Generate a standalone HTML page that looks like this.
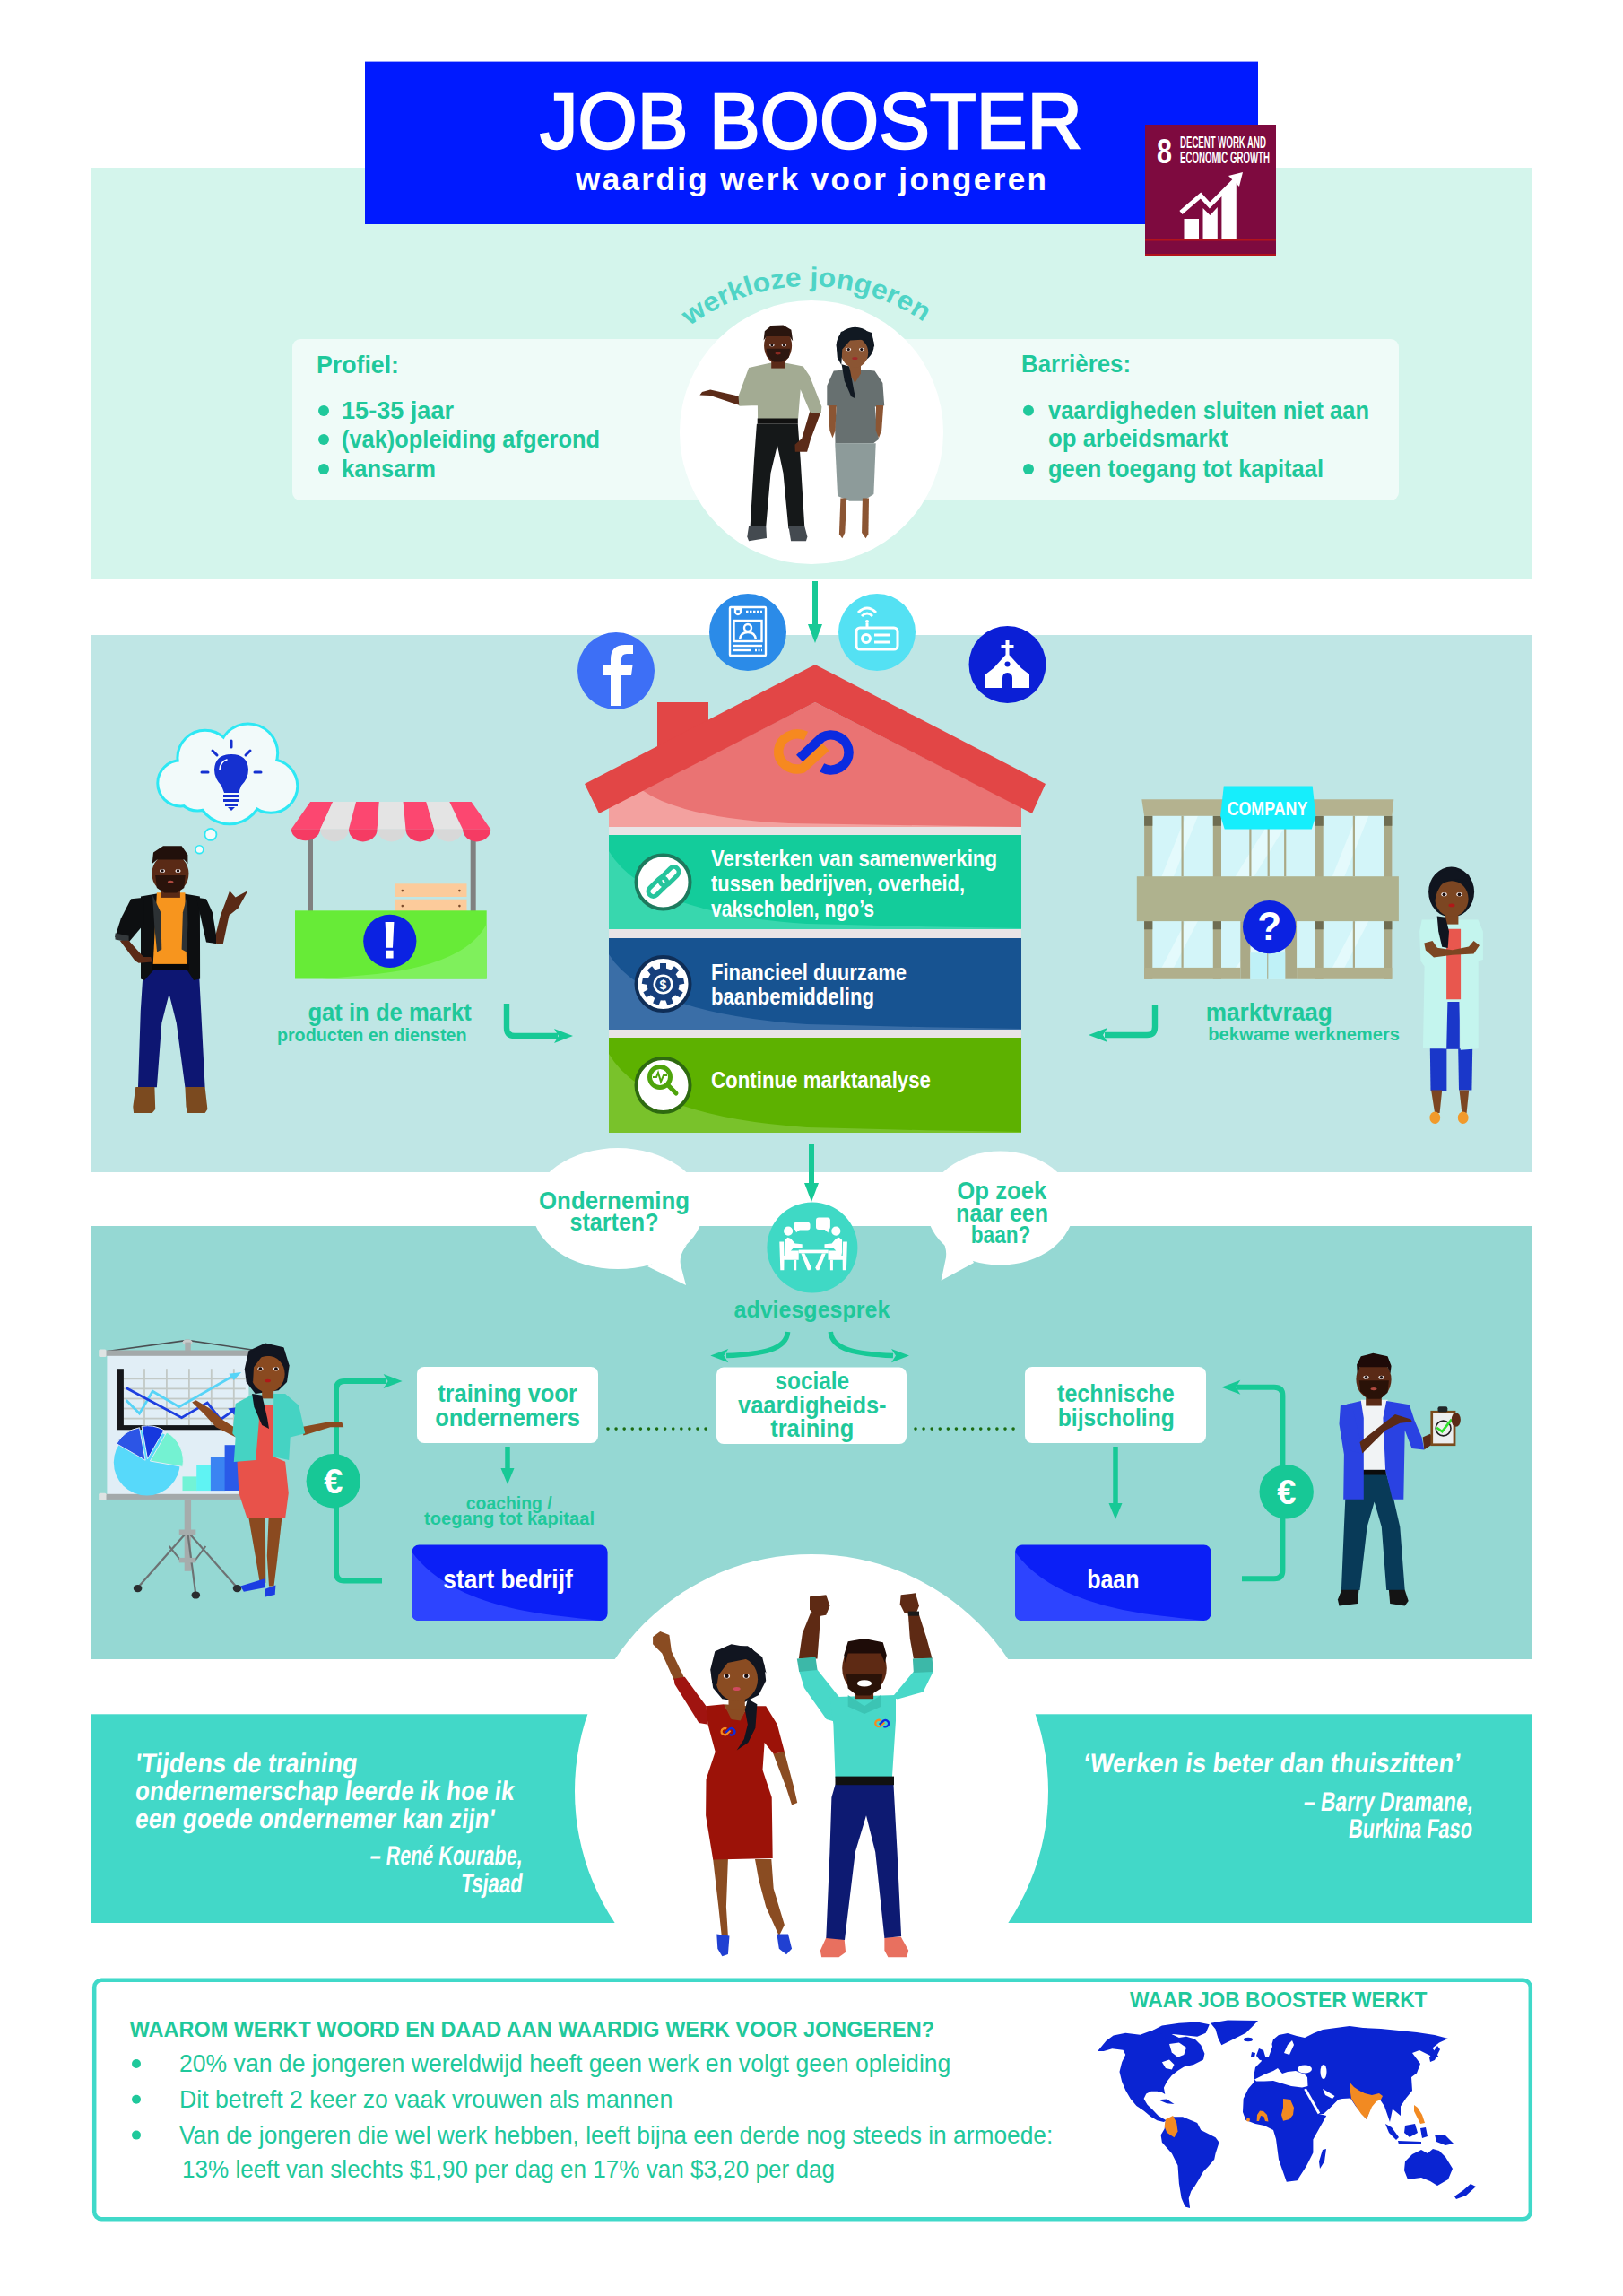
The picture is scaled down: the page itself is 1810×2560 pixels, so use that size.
<!DOCTYPE html>
<html><head><meta charset="utf-8"><title>Job Booster</title>
<style>html,body{margin:0;padding:0;background:#fff;} svg{display:block;}</style>
</head><body>
<svg width="1810" height="2560" viewBox="0 0 1810 2560">
<rect x="0" y="0" width="1810" height="2560" fill="#ffffff" rx="0"/>
<rect x="101" y="187" width="1608" height="459" fill="#d4f5ec" rx="0"/>
<rect x="101" y="708" width="1608" height="599" fill="#bfe6e5" rx="0"/>
<rect x="101" y="1367" width="1608" height="483" fill="#95d8d3" rx="0"/>
<rect x="101" y="1911.3" width="1608" height="232.7" fill="#42d8c8" rx="0"/>
<rect x="407" y="68.6" width="996" height="181.4" fill="#001aff" rx="0"/>
<text x="602" y="165" font-family="Liberation Sans" font-size="87.5" font-weight="normal" font-style="normal" fill="#ffffff" text-anchor="start" textLength="605" lengthAdjust="spacingAndGlyphs" stroke="#ffffff" stroke-width="2.4">JOB BOOSTER</text>
<text x="642" y="212" font-family="Liberation Sans" font-size="35" font-weight="bold" font-style="normal" fill="#ffffff" text-anchor="start" textLength="525" lengthAdjust="spacing">waardig werk voor jongeren</text>
<rect x="1277" y="139" width="146" height="146" fill="#7e0a3f" rx="0"/>
<rect x="1277" y="266" width="146" height="2.5" fill="#b3141c" rx="0"/>
<rect x="1277" y="283" width="146" height="2" fill="#b3141c" rx="0"/>
<text x="1290" y="181.5" font-family="Liberation Sans" font-size="38" font-weight="bold" font-style="normal" fill="#ffffff" text-anchor="start" textLength="17" lengthAdjust="spacingAndGlyphs">8</text>
<text x="1316" y="164.6" font-family="Liberation Sans" font-size="17.5" font-weight="bold" font-style="normal" fill="#ffffff" text-anchor="start" textLength="96" lengthAdjust="spacingAndGlyphs">DECENT WORK AND</text>
<text x="1316" y="181.5" font-family="Liberation Sans" font-size="17.5" font-weight="bold" font-style="normal" fill="#ffffff" text-anchor="start" textLength="100" lengthAdjust="spacingAndGlyphs">ECONOMIC GROWTH</text>
<rect x="1320.5" y="244" width="16.5" height="22.5" fill="#ffffff" rx="0"/>
<polygon points="1341.5,232 1349.5,240 1357.8,231 1357.8,266.5 1341.5,266.5" fill="#ffffff"/>
<polygon points="1362.4,216 1378.8,200 1378.8,266.5 1362.4,266.5" fill="#ffffff"/>
<polyline points="1317,237 1339,218 1349,229 1379,199" fill="none" stroke="#ffffff" stroke-width="5" stroke-linejoin="miter"/>
<polygon points="1386,192 1370,196 1382,208" fill="#ffffff"/>
<rect x="326" y="378" width="1234" height="180" fill="#effbf8" rx="9"/>
<circle cx="905" cy="482" r="147" fill="#ffffff"/>
<path id="arc1" d="M 768.9,363.7 A 222,222 0 0 1 1033,361.4" fill="none"/>
<text font-family="Liberation Sans" font-size="30" font-weight="bold" fill="#4fd4c6"><textPath href="#arc1" startOffset="0" textLength="279" lengthAdjust="spacingAndGlyphs">werkloze jongeren</textPath></text>
<text x="353" y="415.5" font-family="Liberation Sans" font-size="28" font-weight="bold" font-style="normal" fill="#1fc89b" text-anchor="start" textLength="92" lengthAdjust="spacingAndGlyphs">Profiel:</text>
<circle cx="361" cy="458" r="6" fill="#1fc89b"/>
<text x="381" y="467" font-family="Liberation Sans" font-size="27.5" font-weight="bold" font-style="normal" fill="#1fc89b" text-anchor="start" textLength="125" lengthAdjust="spacingAndGlyphs">15-35 jaar</text>
<circle cx="361" cy="490" r="6" fill="#1fc89b"/>
<text x="381" y="499" font-family="Liberation Sans" font-size="27.5" font-weight="bold" font-style="normal" fill="#1fc89b" text-anchor="start" textLength="288" lengthAdjust="spacingAndGlyphs">(vak)opleiding afgerond</text>
<circle cx="361" cy="523" r="6" fill="#1fc89b"/>
<text x="381" y="532" font-family="Liberation Sans" font-size="27.5" font-weight="bold" font-style="normal" fill="#1fc89b" text-anchor="start" textLength="105" lengthAdjust="spacingAndGlyphs">kansarm</text>
<text x="1139" y="415.2" font-family="Liberation Sans" font-size="28" font-weight="bold" font-style="normal" fill="#1fc89b" text-anchor="start" textLength="122" lengthAdjust="spacingAndGlyphs">Barrières:</text>
<circle cx="1147" cy="457.7" r="6" fill="#1fc89b"/>
<text x="1169" y="466.7" font-family="Liberation Sans" font-size="27.5" font-weight="bold" font-style="normal" fill="#1fc89b" text-anchor="start" textLength="358" lengthAdjust="spacingAndGlyphs">vaardigheden sluiten niet aan</text>
<text x="1169" y="498" font-family="Liberation Sans" font-size="27.5" font-weight="bold" font-style="normal" fill="#1fc89b" text-anchor="start" textLength="200.5" lengthAdjust="spacingAndGlyphs">op arbeidsmarkt</text>
<circle cx="1147" cy="523" r="6" fill="#1fc89b"/>
<text x="1169" y="532" font-family="Liberation Sans" font-size="27.5" font-weight="bold" font-style="normal" fill="#1fc89b" text-anchor="start" textLength="307" lengthAdjust="spacingAndGlyphs">geen toegang tot kapitaal</text>
<polygon points="843.9,472.7 889.8,472.7 892.7,512.7 897.2,586.6 879.4,589.6 873.5,527.4 866.9,496.4 859.5,527.4 854.3,586.6 836.5,589.6 841.0,512.7" fill="#151819"/>
<polygon points="835.1,586.6 854.3,586.6 855.0,599.9 835.1,603.2 833.3,598.4" fill="#444a50"/>
<polygon points="879.4,586.6 897.2,586.6 900.4,598.4 898.9,603.2 882.1,603.2" fill="#444a50"/>
<polygon points="824.0,441.7 825.0,452.0 792.2,440.9 780.4,440.5 783.0,437.0 792.2,434.6" fill="#5b2b18"/>
<polygon points="903.8,456.5 915.7,458.7 903.8,490.5 900.1,503.8 886.8,503.8 886.5,495.7 894.2,489.0" fill="#5b2b18"/>
<polygon points="835.1,409.9 858.7,404.7 876.5,404.7 895.7,408.4 903.1,419.5 916.4,453.5 915.7,460.2 903.8,460.2 892.7,434.3 890.1,467.1 845.1,467.1 844.7,434.3 845.4,452.0 824.4,452.8 823.5,441.7" fill="#a3ab93"/>
<rect x="844.7" y="466.5" width="45.1" height="6.2" rx="0.0" fill="#111111"/>
<rect x="860.2" y="398.8" width="15.1" height="11.8" rx="0.0" fill="#5b2b18"/>
<ellipse cx="867.6" cy="385.5" rx="15.5" ry="20.0" fill="#5b2b18"/>
<polygon points="851.6,379.6 852.8,369.2 860.2,363.0 873.5,362.4 882.4,367.7 884.2,380.3 880.2,375.1 855.0,375.1" fill="#2a150e"/>
<polygon points="854.6,388.7 881.2,388.7 879.7,398.8 871.7,403.5 863.2,403.5 855.8,397.6" fill="#2e1710"/>
<ellipse cx="860.9" cy="384.8" rx="2.8" ry="1.8" fill="#f4ecec"/>
<circle cx="860.9" cy="384.8" r="1.5" fill="#1a0c0c"/>
<ellipse cx="874.3" cy="384.8" rx="2.8" ry="1.8" fill="#f4ecec"/>
<circle cx="874.3" cy="384.8" r="1.5" fill="#1a0c0c"/>
<ellipse cx="867.6" cy="394.1" rx="3.1" ry="1.4" fill="#8a2a22"/>
<ellipse cx="953.7" cy="384.8" rx="21.0" ry="20.0" fill="#111922"/>
<polygon points="922.3,429.9 929.7,413.6 947.4,412.1 960.8,412.1 975.5,413.6 984.4,426.9 986.2,452.3 975.8,453.5 977.8,477.2 980.0,489.7 974.1,494.2 931.5,494.6 931.2,475.7 932.7,453.5 922.3,452.3" fill="#677070"/>
<polygon points="923.8,452.0 932.7,452.0 931.5,480.1 928.5,488.3 925.3,480.1" fill="#8b5533"/>
<polygon points="977.0,452.0 985.2,452.0 983.2,480.1 980.0,488.3 976.7,480.1" fill="#8b5533"/>
<polygon points="931.2,494.2 976.7,494.2 974.4,551.1 962.2,558.8 947.4,558.8 934.1,552.9" fill="#8d9b9a"/>
<polygon points="937.4,555.5 944.2,555.5 942.3,594.0 939.3,600.2 935.9,595.5" fill="#8b5533"/>
<polygon points="961.9,555.5 969.0,555.5 968.4,595.5 965.5,600.2 961.1,594.0" fill="#8b5533"/>
<polygon points="947.4,406.2 960.0,406.2 960.0,416.5 953.4,426.9 947.4,416.5" fill="#8b5533"/>
<ellipse cx="953.1" cy="393.2" rx="15.1" ry="16.6" fill="#8b5533"/>
<polygon points="932.7,384.8 937.8,370.0 953.4,364.8 972.3,371.0 975.2,386.2 968.9,387.7 965.5,378.4 948.2,379.6 939.3,389.6 938.3,406.9 933.8,398.8" fill="#111922"/>
<polygon points="938.6,406.2 947.2,408.4 954.1,444.6 949.2,442.0 941.8,424.7" fill="#111922"/>
<ellipse cx="946.3" cy="389.6" rx="2.8" ry="1.9" fill="#f4ecec"/>
<circle cx="946.3" cy="389.6" r="1.6" fill="#1a0c0c"/>
<ellipse cx="960.8" cy="389.6" rx="2.8" ry="1.9" fill="#f4ecec"/>
<circle cx="960.8" cy="389.6" r="1.6" fill="#1a0c0c"/>
<ellipse cx="953.4" cy="399.5" rx="3.1" ry="1.5" fill="#a02a2a"/>
<line x1="909" y1="648" x2="909" y2="698" stroke="#17c996" stroke-width="6"/>
<polygon points="901,696 917,696 909,717" fill="#17c996"/>
<circle cx="687" cy="748" r="43" fill="#3d6ff6"/>
<path d="M 693,787 L 693,753 L 704,753 L 705.5,742 L 693,742 L 693,735 Q 693,729 699,729 L 706,729 L 706,719 L 697,719 Q 681,719 681,735 L 681,742 L 673,742 L 673,753 L 681,753 L 681,787 Z" fill="#ffffff"/>
<circle cx="834" cy="705" r="43" fill="#2b8be8"/>
<g fill="none" stroke="#ffffff" stroke-width="2.4"><rect x="814" y="677" width="40" height="54" rx="1"/><rect x="818.5" y="692" width="31" height="23"/><line x1="832" y1="682" x2="850" y2="682" stroke-dasharray="2.5 1.5"/><line x1="818" y1="720" x2="850" y2="720"/><line x1="818" y1="725" x2="838" y2="725"/><line x1="842" y1="725" x2="850" y2="725" stroke-dasharray="2 1.5"/><circle cx="834" cy="700" r="4"/><path d="M 825,713 Q 826,705 834,705 Q 842,705 843,713"/><path d="M 820,679 L 826,679 L 826,683 Q 823,687 820,683 Z"/></g>
<circle cx="978" cy="705" r="43" fill="#54e1f3"/>
<g fill="none" stroke="#ffffff" stroke-width="3"><rect x="955" y="700" width="46" height="24" rx="4"/><circle cx="966" cy="712" r="4.5"/><line x1="975" y1="708" x2="993" y2="708"/><line x1="975" y1="716" x2="993" y2="716"/><line x1="967" y1="700" x2="967" y2="695"/><path d="M 961,687 Q 967,681 973,687"/><path d="M 957,683 Q 967,673 977,683"/></g>
<circle cx="967" cy="693" r="2" fill="#ffffff"/>
<circle cx="1123.5" cy="741" r="43" fill="#0b1fd6"/>
<g fill="#ffffff"><rect x="1121.5" y="714" width="4" height="16"/><rect x="1116.5" y="719" width="14" height="4"/><polygon points="1123.5,728 1108,745 1108,767 1139,767 1139,745"/><polygon points="1108,745 1099,752 1099,767 1108,767"/><polygon points="1139,745 1148,752 1148,767 1139,767"/></g>
<circle cx="1123.5" cy="740.5" r="3" fill="#0b1fd6"/>
<path d="M 1118,767 L 1118,756 Q 1118,750 1123.5,750 Q 1129,750 1129,756 L 1129,767 Z" fill="#0b1fd6"/>
<rect x="733" y="783" width="57" height="70" fill="#e24646" rx="0"/>
<path d="M 909,783 L 679,900 L 679,922 L 1139,922 L 1139,900 Z" fill="#ea7373"/>
<path d="M 679,900 L 716,881 Q 760,912 880,918 L 1139,922 L 679,922 Z" fill="#f3a19f"/>
<path d="M 909,741 L 652,874 L 668,907 L 909,783 L 1151,907 L 1166,874 Z" fill="#e24646"/>
<g fill="none" stroke-width="10.50" stroke-linejoin="round"><path d="M 898.8,820.6 A 21.0,19.5 0 1 0 895.0,856.7 L 921.0,833.0" stroke="#f6891f"/><path d="M 916.6,855.9 A 20.0,19.5 0 1 0 916.6,822.1 L 891.6,845.5" stroke="#0b2be0"/></g>
<rect x="679" y="922" width="460" height="341" fill="#e8e4e6" rx="0"/>
<rect x="679" y="931" width="460" height="105" fill="#13cc9b" rx="0"/>
<path d="M 679,949 Q 720,1018 900,1030 Q 1050,1034 1139,1035 L 1139,1036 L 679,1036 Z" fill="#38d7ae"/>
<circle cx="739.5" cy="983.5" r="30" fill="#ffffff" stroke="#1d7a5e" stroke-width="4"/>
<rect x="679" y="1046" width="460" height="102" fill="#175391" rx="0"/>
<path d="M 679,1064 Q 720,1130 900,1142 Q 1050,1146 1139,1147 L 1139,1148 L 679,1148 Z" fill="#3a6ea7"/>
<circle cx="739.5" cy="1097.0" r="30" fill="#ffffff" stroke="#0f2e57" stroke-width="4"/>
<rect x="679" y="1157" width="460" height="106" fill="#5db100" rx="0"/>
<path d="M 679,1175 Q 720,1245 900,1257 Q 1050,1261 1139,1262 L 1139,1263 L 679,1263 Z" fill="#79c22b"/>
<circle cx="739.5" cy="1210.0" r="30" fill="#ffffff" stroke="#2e6a10" stroke-width="4"/>
<g fill="none" stroke="#26c49c" stroke-width="5"><rect x="721" y="983.5" width="25" height="11" rx="5.5" transform="rotate(-45 733.5 989)"/><rect x="734" y="971.5" width="25" height="11" rx="5.5" transform="rotate(-45 746.5 977)"/></g>
<g fill="#163f7c"><rect x="736" y="1074" width="7" height="9" transform="rotate(0 739.5 1097.5)"/><rect x="736" y="1074" width="7" height="9" transform="rotate(40 739.5 1097.5)"/><rect x="736" y="1074" width="7" height="9" transform="rotate(80 739.5 1097.5)"/><rect x="736" y="1074" width="7" height="9" transform="rotate(120 739.5 1097.5)"/><rect x="736" y="1074" width="7" height="9" transform="rotate(160 739.5 1097.5)"/><rect x="736" y="1074" width="7" height="9" transform="rotate(200 739.5 1097.5)"/><rect x="736" y="1074" width="7" height="9" transform="rotate(240 739.5 1097.5)"/><rect x="736" y="1074" width="7" height="9" transform="rotate(280 739.5 1097.5)"/><rect x="736" y="1074" width="7" height="9" transform="rotate(320 739.5 1097.5)"/></g>
<circle cx="739.5" cy="1097.5" r="18" fill="#163f7c"/>
<circle cx="739.5" cy="1097.5" r="11" fill="#ffffff"/>
<circle cx="739.5" cy="1097.5" r="8.5" fill="#163f7c"/>
<text x="739.5" y="1103" font-family="Liberation Sans" font-size="14" font-weight="bold" font-style="normal" fill="#ffffff" text-anchor="middle">$</text>
<g fill="none" stroke="#4ea40c" stroke-width="5" stroke-linecap="round"><circle cx="736" cy="1201" r="11.5"/><line x1="745" y1="1210" x2="754" y2="1219"/></g>
<polyline points="728,1201 732,1201 734,1196 737,1206 740,1199 744,1199" fill="none" stroke="#4ea40c" stroke-width="2"/>
<text x="793" y="966.3" font-family="Liberation Sans" font-size="25" font-weight="bold" font-style="normal" fill="#ffffff" text-anchor="start" textLength="319" lengthAdjust="spacingAndGlyphs">Versterken van samenwerking</text>
<text x="793" y="994" font-family="Liberation Sans" font-size="25" font-weight="bold" font-style="normal" fill="#ffffff" text-anchor="start" textLength="283" lengthAdjust="spacingAndGlyphs">tussen bedrijven, overheid,</text>
<text x="793" y="1021.7" font-family="Liberation Sans" font-size="25" font-weight="bold" font-style="normal" fill="#ffffff" text-anchor="start" textLength="182" lengthAdjust="spacingAndGlyphs">vakscholen, ngo’s</text>
<text x="793" y="1092.6" font-family="Liberation Sans" font-size="25" font-weight="bold" font-style="normal" fill="#ffffff" text-anchor="start" textLength="218" lengthAdjust="spacingAndGlyphs">Financieel duurzame</text>
<text x="793" y="1119.7" font-family="Liberation Sans" font-size="25" font-weight="bold" font-style="normal" fill="#ffffff" text-anchor="start" textLength="182" lengthAdjust="spacingAndGlyphs">baanbemiddeling</text>
<text x="793" y="1213.3" font-family="Liberation Sans" font-size="25" font-weight="bold" font-style="normal" fill="#ffffff" text-anchor="start" textLength="245" lengthAdjust="spacingAndGlyphs">Continue marktanalyse</text>
<line x1="905" y1="1276" x2="905" y2="1321" stroke="#17c996" stroke-width="6"/>
<polygon points="897,1319 913,1319 905,1340" fill="#17c996"/>
<circle cx="201.4" cy="873.3" r="24.1" fill="#2de8f4" stroke="#2de8f4" stroke-width="6"/>
<circle cx="228.7" cy="845" r="29.3" fill="#2de8f4" stroke="#2de8f4" stroke-width="6"/>
<circle cx="276.8" cy="839.8" r="31.4" fill="#2de8f4" stroke="#2de8f4" stroke-width="6"/>
<circle cx="302" cy="876.5" r="28.3" fill="#2de8f4" stroke="#2de8f4" stroke-width="6"/>
<circle cx="255.9" cy="881.7" r="35.6" fill="#2de8f4" stroke="#2de8f4" stroke-width="6"/>
<circle cx="220.3" cy="879.6" r="23" fill="#2de8f4" stroke="#2de8f4" stroke-width="6"/>
<circle cx="201.4" cy="873.3" r="24.1" fill="#f2fafa"/>
<circle cx="228.7" cy="845" r="29.3" fill="#f2fafa"/>
<circle cx="276.8" cy="839.8" r="31.4" fill="#f2fafa"/>
<circle cx="302" cy="876.5" r="28.3" fill="#f2fafa"/>
<circle cx="255.9" cy="881.7" r="35.6" fill="#f2fafa"/>
<circle cx="220.3" cy="879.6" r="23" fill="#f2fafa"/>
<circle cx="234.9" cy="930.4" r="6.5" fill="#f4fbfb" stroke="#2de8f4" stroke-width="1.8"/>
<circle cx="222.4" cy="947.2" r="4.4" fill="#f4fbfb" stroke="#2de8f4" stroke-width="1.6"/>
<g fill="#1530d0"><path d="M 258,841 Q 240,841 239,858 Q 239,868 247,876 L 250,884 L 266,884 L 269,876 Q 277,868 277,858 Q 276,841 258,841 Z"/><rect x="249" y="886" width="18" height="3"/><rect x="249" y="891" width="18" height="3"/><rect x="251" y="896" width="14" height="3"/><polygon points="254,900 262,900 258,904"/></g>
<g stroke="#1530d0" stroke-width="3" stroke-linecap="round"><line x1="258" y1="826" x2="258" y2="833"/><line x1="237" y1="837" x2="242" y2="842"/><line x1="279" y1="837" x2="274" y2="842"/><line x1="225" y1="861" x2="232" y2="861"/><line x1="284" y1="861" x2="291" y2="861"/></g>
<path d="M 245,858 Q 246,849 253,847" fill="none" stroke="#fff" stroke-width="1.6" stroke-linecap="round"/>
<polygon points="159.8,1080.7 221.8,1080.7 224.2,1127.0 228.6,1212.3 206.4,1212.3 196.8,1140.7 188.6,1108.1 180.3,1140.7 174.9,1212.3 154.0,1212.3 156.8,1127.0" fill="#0d1672"/>
<polygon points="151.3,1212.1 172.4,1212.1 173.2,1236.7 169.7,1241.1 149.1,1241.1 148.3,1234.0" fill="#7b4a1f"/>
<polygon points="206.4,1212.1 228.6,1212.1 231.4,1236.7 228.6,1241.1 209.2,1241.1 207.5,1234.0" fill="#7b4a1f"/>
<polygon points="238.2,1051.6 248.7,1052.7 255.5,1020.7 265.7,1012.5 276.6,992.9 262.6,1000.6 256.1,993.3 252.4,1003.6 245.9,1020.7" fill="#5a2a16"/>
<polygon points="157.0,999.5 177.6,996.0 202.3,996.0 222.9,999.5 223.1,1091.4 216.0,1093.0 208.1,1080.7 172.1,1080.7 161.1,1093.0 157.0,1091.4" fill="#0d0f11"/>
<polygon points="146.1,1002.2 161.1,1000.8 160.0,1031.0 143.6,1050.5 128.2,1045.0 134.8,1024.2" fill="#0d0f11"/>
<polygon points="218.8,1000.8 230.0,1002.2 236.9,1017.3 241.0,1042.3 241.0,1051.9 230.0,1050.5 224.2,1024.2" fill="#0d0f11"/>
<polygon points="128.5,1040.6 143.6,1043.4 143.6,1050.5 128.5,1047.5" fill="#33383b"/>
<polygon points="133.7,1048.8 143.6,1048.8 160.0,1066.9 168.3,1066.9 169.7,1072.4 154.6,1073.8 150.4,1071.1" fill="#5a2a16"/>
<polygon points="174.9,995.3 206.4,995.3 208.1,1075.2 170.7,1075.2" fill="#f7951e"/>
<polygon points="170.1,998.1 179.3,1017.3 180.3,1058.4 175.1,1061.5 172.1,1031.0" fill="#2c3134"/>
<polygon points="208.9,998.1 203.9,1017.3 202.6,1058.4 208.1,1061.5 209.4,1031.0" fill="#2c3134"/>
<rect x="169.4" y="1074.9" width="41.4" height="6.9" rx="0.0" fill="#080808"/>
<rect x="179.0" y="989.9" width="21.9" height="11.0" rx="0.0" fill="#5a2a16"/>
<ellipse cx="189.9" cy="974.1" rx="20.6" ry="21.9" fill="#5a2a16"/>
<polygon points="169.7,963.1 171.0,950.4 182.0,943.2 202.6,943.2 209.4,953.1 209.4,963.1 205.3,958.6 175.1,958.6" fill="#21100b"/>
<polygon points="173.2,976.1 206.7,976.1 205.3,990.1 197.1,995.6 183.4,995.6 174.9,990.1" fill="#2a130b"/>
<ellipse cx="181.0" cy="970.9" rx="3.0" ry="2.0" fill="#f4ecec"/>
<circle cx="181.0" cy="970.9" r="1.7" fill="#1a0c0c"/>
<ellipse cx="198.5" cy="970.9" rx="3.0" ry="2.0" fill="#f4ecec"/>
<circle cx="198.5" cy="970.9" r="1.7" fill="#1a0c0c"/>
<ellipse cx="190.2" cy="983.3" rx="3.3" ry="1.6" fill="#b04a40"/>
<g fill="#808080"><rect x="343" y="930" width="6" height="87"/><rect x="524.7" y="930" width="6" height="87"/></g>
<rect x="440.7" y="985.3" width="79.8" height="14.7" fill="#fccb9b" rx="0"/>
<rect x="440.7" y="1002.7" width="79.8" height="14.5" fill="#fccb9b" rx="0"/>
<circle cx="448.8" cy="993.1" r="1.3" fill="#7a4a2a"/>
<circle cx="512.4" cy="993.1" r="1.3" fill="#7a4a2a"/>
<circle cx="448.8" cy="1010.1" r="1.3" fill="#7a4a2a"/>
<circle cx="512.4" cy="1010.1" r="1.3" fill="#7a4a2a"/>
<rect x="329" y="1015.3" width="213.7" height="76.2" fill="#67eb37" rx="0"/>
<path d="M 542.7,1030 Q 520,1075 420,1086 L 359,1091.5 L 542.7,1091.5 Z" fill="#7ff05c"/>
<polygon points="346.1,894.0 371.2,894.0 357.1,924.7 324.6,924.7" fill="#fc4770"/>
<path d="M 324.6,924.4 A 16.3,14.0 0 0 0 357.1,924.4 Z" fill="#f53b63"/>
<polygon points="371.2,894.0 397.1,894.0 388.9,924.7 357.1,924.7" fill="#e4e4e4"/>
<path d="M 357.1,924.4 A 15.9,14.0 0 0 0 388.9,924.4 Z" fill="#d8d8d8"/>
<polygon points="397.1,894.0 422.9,894.0 420.7,924.7 388.9,924.7" fill="#fc4770"/>
<path d="M 388.9,924.4 A 15.9,14.0 0 0 0 420.7,924.4 Z" fill="#f53b63"/>
<polygon points="422.9,894.0 449.6,894.0 452.5,924.7 420.7,924.7" fill="#e4e4e4"/>
<path d="M 420.7,924.4 A 15.9,14.0 0 0 0 452.5,924.4 Z" fill="#d8d8d8"/>
<polygon points="449.6,894.0 475.4,894.0 484.3,924.7 452.5,924.7" fill="#fc4770"/>
<path d="M 452.5,924.4 A 15.9,14.0 0 0 0 484.3,924.4 Z" fill="#f53b63"/>
<polygon points="475.4,894.0 501.3,894.0 516.1,924.7 484.3,924.7" fill="#e4e4e4"/>
<path d="M 484.3,924.4 A 15.9,14.0 0 0 0 516.1,924.4 Z" fill="#d8d8d8"/>
<polygon points="501.3,894.0 525.7,894.0 547.2,924.7 516.1,924.7" fill="#fc4770"/>
<path d="M 516.1,924.4 A 15.5,14.0 0 0 0 547.2,924.4 Z" fill="#f53b63"/>
<circle cx="434.8" cy="1049.3" r="29.6" fill="#0b22e2"/>
<polygon points="429.6,1027.9 439.4,1027.9 438,1056.7 431,1056.7" fill="#fff"/>
<rect x="430.6" y="1059.7" width="8" height="8.8" fill="#ffffff" rx="0"/>
<text x="525.8" y="1138.3" font-family="Liberation Sans" font-size="27" font-weight="bold" font-style="normal" fill="#1fc89b" text-anchor="end" textLength="182.4" lengthAdjust="spacingAndGlyphs">gat in de markt</text>
<text x="520.5" y="1161" font-family="Liberation Sans" font-size="21" font-weight="bold" font-style="normal" fill="#1fc89b" text-anchor="end" textLength="211.6" lengthAdjust="spacingAndGlyphs">producten en diensten</text>
<path d="M 565,1119 L 565,1146 Q 565,1155 574,1155 L 622,1155" fill="none" stroke="#17c996" stroke-width="6.4"/>
<polygon points="639,1155 618,1147 623,1155 618,1163" fill="#17c996"/>
<rect x="1276.1" y="909.7" width="276.3" height="182.1" rx="0.0" fill="#d3f5f9"/>
<polygon points="1322.4,909.7 1335.9,909.7 1308.9,977.2 1295.5,977.2" fill="#e4fafc"/>
<polygon points="1322.4,1027.1 1335.9,1027.1 1308.9,1078.9 1295.5,1078.9" fill="#e4fafc"/>
<polygon points="1419.5,909.7 1440.4,909.7 1398.6,977.2 1377.7,977.2" fill="#e4fafc"/>
<polygon points="1419.5,1027.1 1440.4,1027.1 1398.6,1078.9 1377.7,1078.9" fill="#e4fafc"/>
<polygon points="1512.8,909.7 1526.3,909.7 1499.3,977.2 1485.8,977.2" fill="#e4fafc"/>
<polygon points="1512.8,1027.1 1526.3,1027.1 1499.3,1078.9 1485.8,1078.9" fill="#e4fafc"/>
<rect x="1317.5" y="909.7" width="2.2" height="67.5" rx="0.0" fill="#aaa987"/>
<rect x="1393.3" y="909.7" width="2.2" height="67.5" rx="0.0" fill="#aaa987"/>
<rect x="1413.6" y="909.7" width="2.2" height="67.5" rx="0.0" fill="#aaa987"/>
<rect x="1432.1" y="909.7" width="2.2" height="67.5" rx="0.0" fill="#aaa987"/>
<rect x="1508.8" y="909.7" width="2.2" height="67.5" rx="0.0" fill="#aaa987"/>
<rect x="1317.5" y="1027.1" width="2.2" height="51.8" rx="0.0" fill="#aaa987"/>
<rect x="1508.8" y="1027.1" width="2.2" height="51.8" rx="0.0" fill="#aaa987"/>
<rect x="1413.6" y="1027.1" width="2.2" height="51.8" rx="0.0" fill="#aaa987"/>
<rect x="1276.1" y="909.7" width="9.2" height="182.1" rx="0.0" fill="#aaa987"/>
<rect x="1276.1" y="909.7" width="9.2" height="11.1" rx="0.0" fill="#6f6d52"/>
<rect x="1276.1" y="1027.1" width="9.2" height="9.2" rx="0.0" fill="#6f6d52"/>
<rect x="1352.8" y="909.7" width="9.2" height="182.1" rx="0.0" fill="#aaa987"/>
<rect x="1352.8" y="909.7" width="9.2" height="11.1" rx="0.0" fill="#6f6d52"/>
<rect x="1352.8" y="1027.1" width="9.2" height="9.2" rx="0.0" fill="#6f6d52"/>
<rect x="1466.5" y="909.7" width="9.2" height="182.1" rx="0.0" fill="#aaa987"/>
<rect x="1466.5" y="909.7" width="9.2" height="11.1" rx="0.0" fill="#6f6d52"/>
<rect x="1466.5" y="1027.1" width="9.2" height="9.2" rx="0.0" fill="#6f6d52"/>
<rect x="1543.2" y="909.7" width="9.2" height="182.1" rx="0.0" fill="#aaa987"/>
<rect x="1543.2" y="909.7" width="9.2" height="11.1" rx="0.0" fill="#6f6d52"/>
<rect x="1543.2" y="1027.1" width="9.2" height="9.2" rx="0.0" fill="#6f6d52"/>
<polygon points="1383.3,1027.1 1394.4,1027.1 1394.4,1091.8 1383.3,1091.8" fill="#aaa987"/>
<polygon points="1433.2,1027.1 1446.1,1027.1 1446.1,1091.8 1433.2,1091.8" fill="#aaa987"/>
<rect x="1394.4" y="1062.2" width="38.8" height="29.6" rx="0.0" fill="#bff1f7"/>
<rect x="1413.2" y="1062.2" width="1.1" height="29.6" rx="0.0" fill="#aaa987"/>
<rect x="1276.1" y="1078.9" width="107.2" height="12.9" rx="0.0" fill="#b0af8c"/>
<rect x="1446.1" y="1078.9" width="106.3" height="12.9" rx="0.0" fill="#b0af8c"/>
<polygon points="1273.3,891.3 1554.3,891.3 1552.4,909.7 1276.1,909.7" fill="#b4b28f"/>
<rect x="1267.8" y="977.2" width="292.1" height="49.9" rx="0.0" fill="#afb28e"/>
<polygon points="1364.8,876.5 1463.7,876.5 1467.4,909.7 1462.8,924.5 1365.7,924.5 1361.1,909.7" fill="#16eefc"/>
<text x="1413.5" y="908.8" font-family="Liberation Sans" font-size="22" font-weight="bold" font-style="normal" fill="#ffffff" text-anchor="middle" textLength="89.6" lengthAdjust="spacingAndGlyphs">COMPANY</text>
<circle cx="1415.6" cy="1033.6" r="29.6" fill="#0b22e2"/>
<text x="1415.6" y="1048" font-family="Liberation Sans" font-size="44" font-weight="bold" font-style="normal" fill="#ffffff" text-anchor="middle">?</text>
<text x="1344.8" y="1138.2" font-family="Liberation Sans" font-size="27" font-weight="bold" font-style="normal" fill="#1fc89b" text-anchor="start" textLength="141" lengthAdjust="spacingAndGlyphs">marktvraag</text>
<text x="1347.3" y="1160.4" font-family="Liberation Sans" font-size="21" font-weight="bold" font-style="normal" fill="#1fc89b" text-anchor="start" textLength="213.7" lengthAdjust="spacingAndGlyphs">bekwame werknemers</text>
<path d="M 1288,1120 L 1288,1145 Q 1288,1154 1279,1154 L 1232,1154" fill="none" stroke="#17c996" stroke-width="6.4"/>
<polygon points="1214,1154 1235,1146 1230,1154 1235,1162" fill="#17c996"/>
<ellipse cx="1618.6" cy="994.6" rx="25.5" ry="28.1" fill="#10151f"/>
<polygon points="1594.8,1169.2 1613.4,1169.2 1613.4,1216.2 1595.5,1216.2" fill="#1a37c9"/>
<polygon points="1626.2,1169.2 1642.2,1169.2 1641.4,1215.6 1627.0,1215.6" fill="#1a37c9"/>
<polygon points="1613.1,1114.2 1627.8,1114.2 1627.8,1169.8 1613.1,1169.8" fill="#1a37c9"/>
<polygon points="1596.1,1215.6 1608.2,1215.6 1605.6,1241.0 1600.1,1241.0" fill="#7c4622"/>
<polygon points="1627.5,1215.6 1638.2,1215.6 1635.6,1241.0 1630.4,1241.0" fill="#7c4622"/>
<ellipse cx="1600.3" cy="1246.3" rx="5.9" ry="6.8" fill="#f19a2b"/>
<ellipse cx="1631.7" cy="1246.3" rx="5.9" ry="6.8" fill="#f19a2b"/>
<polygon points="1585.7,1025.4 1648.4,1025.4 1653.9,1038.4 1653.9,1070.1 1648.7,1071.4 1648.7,1169.2 1628.8,1170.7 1627.5,1116.9 1614.4,1116.9 1613.1,1169.2 1587.0,1168.1 1588.6,1077.6 1584.4,1071.4 1583.1,1038.4" fill="#c4f5ee"/>
<polygon points="1613.1,1035.8 1629.1,1035.8 1629.1,1114.2 1613.1,1114.2" fill="#e8574e"/>
<rect x="1611.8" y="1017.5" width="14.6" height="13.1" rx="0.0" fill="#7c4622"/>
<polygon points="1588.3,1051.5 1597.5,1048.9 1602.9,1056.7 1619.7,1059.3 1638.0,1055.4 1643.5,1048.9 1650.0,1054.1 1643.5,1063.5 1619.7,1064.8 1599.0,1067.5 1589.9,1059.6" fill="#7c4622"/>
<ellipse cx="1619.0" cy="1002.1" rx="18.6" ry="19.9" fill="#7c4622"/>
<polygon points="1594.8,992.7 1600.3,975.7 1618.6,967.8 1638.2,975.7 1643.5,992.7 1638.2,986.1 1633.0,979.9 1609.5,982.2 1602.9,994.2 1600.3,1003.4 1596.1,1003.4" fill="#10151f"/>
<polygon points="1602.7,1021.4 1612.1,1022.7 1616.0,1038.4 1614.7,1057.0 1608.2,1055.7 1604.2,1038.4" fill="#10151f"/>
<ellipse cx="1610.5" cy="997.3" rx="3.2" ry="2.2" fill="#f4ecec"/>
<circle cx="1610.5" cy="997.3" r="1.9" fill="#1a0c0c"/>
<ellipse cx="1627.5" cy="997.3" rx="3.2" ry="2.2" fill="#f4ecec"/>
<circle cx="1627.5" cy="997.3" r="1.9" fill="#1a0c0c"/>
<ellipse cx="1619.0" cy="1009.4" rx="3.5" ry="1.8" fill="#b01818"/>
<g fill="#ffffff"><ellipse cx="689" cy="1347.6" rx="95.5" ry="67.5"/><path d="M 766,1388 Q 757,1400 759,1410 L 765,1433 L 722,1412 Z"/><ellipse cx="1115.5" cy="1347" rx="82" ry="63.5"/><path d="M 1052,1384 Q 1056,1394 1055,1402 L 1049.6,1427.7 L 1086,1408 L 1080,1396 Z"/></g>
<text x="601" y="1348" font-family="Liberation Sans" font-size="27.5" font-weight="bold" font-style="normal" fill="#1fc89b" text-anchor="start" textLength="168" lengthAdjust="spacingAndGlyphs">Onderneming</text>
<text x="685" y="1372.3" font-family="Liberation Sans" font-size="27.5" font-weight="bold" font-style="normal" fill="#1fc89b" text-anchor="middle" textLength="99" lengthAdjust="spacingAndGlyphs">starten?</text>
<text x="1117.3" y="1337.2" font-family="Liberation Sans" font-size="27" font-weight="bold" font-style="normal" fill="#1fc89b" text-anchor="middle" textLength="100" lengthAdjust="spacingAndGlyphs">Op zoek</text>
<text x="1117.6" y="1361.8" font-family="Liberation Sans" font-size="27" font-weight="bold" font-style="normal" fill="#1fc89b" text-anchor="middle" textLength="103" lengthAdjust="spacingAndGlyphs">naar een</text>
<text x="1116.1" y="1385.8" font-family="Liberation Sans" font-size="27" font-weight="bold" font-style="normal" fill="#1fc89b" text-anchor="middle" textLength="66.6" lengthAdjust="spacingAndGlyphs">baan?</text>
<circle cx="905.9" cy="1391" r="50.5" fill="#3fd9c5"/>
<ellipse cx="879.1" cy="1372.6" rx="5.1" ry="5.1" fill="#ffffff"/>
<ellipse cx="932.3" cy="1372.6" rx="5.1" ry="5.1" fill="#ffffff"/>
<polygon points="869.3,1384.5 874.1,1384.5 874.5,1400.1 890.7,1400.1 890.7,1404.8 874.5,1404.8 874.4,1416.3 870.3,1416.3" fill="#ffffff"/>
<rect x="885.2" y="1404.8" width="3.0" height="11.5" rx="0.0" fill="#ffffff"/>
<polygon points="944.9,1384.5 940.1,1384.5 939.7,1400.1 923.5,1400.1 923.5,1404.8 939.7,1404.8 939.8,1416.3 943.9,1416.3" fill="#ffffff"/>
<rect x="925.9" y="1404.8" width="3.0" height="11.5" rx="0.0" fill="#ffffff"/>
<polygon points="875.1,1382.4 878.5,1379.7 881.9,1381.1 886.6,1386.5 894.7,1387.2 894.7,1391.3 885.2,1391.3 881.9,1394.6 890.7,1394.6 890.7,1400.1 875.8,1400.1 875.1,1396.0" fill="#ffffff"/>
<polygon points="939.1,1382.4 935.7,1379.7 932.3,1381.1 927.6,1386.5 919.5,1387.2 919.5,1391.3 929.0,1391.3 932.3,1394.6 923.5,1394.6 923.5,1400.1 938.4,1400.1 939.1,1396.0" fill="#ffffff"/>
<rect x="890.7" y="1393.6" width="32.9" height="3.7" rx="0.0" fill="#ffffff"/>
<polygon points="893.4,1397.4 897.4,1397.4 904.9,1413.6 903.5,1416.3 900.8,1416.3" fill="#ffffff"/>
<polygon points="920.8,1397.4 916.8,1397.4 909.3,1413.6 910.7,1416.3 913.4,1416.3" fill="#ffffff"/>
<rect x="885.2" y="1362.8" width="18.3" height="8.8" rx="3" fill="#fff"/>
<rect x="910.0" y="1357.4" width="15.9" height="13.6" rx="3" fill="#fff"/>
<polygon points="886.6,1370.2 892.0,1370.9 888.0,1374.3" fill="#ffffff"/>
<polygon points="919.1,1370.2 924.6,1370.2 923.5,1374.6" fill="#ffffff"/>
<text x="905.4" y="1468.5" font-family="Liberation Sans" font-size="25.5" font-weight="bold" font-style="normal" fill="#1fc89b" text-anchor="middle" textLength="173.8" lengthAdjust="spacingAndGlyphs">adviesgesprek</text>
<path d="M 878.6,1485 C 877,1505 850,1510 810,1511.6" fill="none" stroke="#17c996" stroke-width="5.5"/>
<polygon points="792.3,1511.6 812.3,1503.8999999999999 807.3,1511.6 812.3,1519.3" fill="#17c996"/>
<path d="M 926.3,1485 C 928,1505 955,1510 996,1511.6" fill="none" stroke="#17c996" stroke-width="5.5"/>
<polygon points="1014,1511.6 994,1503.8999999999999 999,1511.6 994,1519.3" fill="#17c996"/>
<rect x="465" y="1524" width="202" height="85" fill="#ffffff" rx="8"/>
<rect x="799" y="1524.5" width="212" height="85.5" fill="#ffffff" rx="8"/>
<rect x="1143" y="1524" width="202" height="85" fill="#ffffff" rx="8"/>
<text x="566" y="1562.8" font-family="Liberation Sans" font-size="27" font-weight="bold" font-style="normal" fill="#1fc89b" text-anchor="middle" textLength="155.7" lengthAdjust="spacingAndGlyphs">training voor</text>
<text x="566" y="1590" font-family="Liberation Sans" font-size="27" font-weight="bold" font-style="normal" fill="#1fc89b" text-anchor="middle" textLength="161.7" lengthAdjust="spacingAndGlyphs">ondernemers</text>
<text x="905.8" y="1549" font-family="Liberation Sans" font-size="27" font-weight="bold" font-style="normal" fill="#1fc89b" text-anchor="middle" textLength="82.8" lengthAdjust="spacingAndGlyphs">sociale</text>
<text x="905.8" y="1575.7" font-family="Liberation Sans" font-size="27" font-weight="bold" font-style="normal" fill="#1fc89b" text-anchor="middle" textLength="165.6" lengthAdjust="spacingAndGlyphs">vaardigheids-</text>
<text x="905.8" y="1601.6" font-family="Liberation Sans" font-size="27" font-weight="bold" font-style="normal" fill="#1fc89b" text-anchor="middle" textLength="93" lengthAdjust="spacingAndGlyphs">training</text>
<text x="1244.4" y="1562.8" font-family="Liberation Sans" font-size="27" font-weight="bold" font-style="normal" fill="#1fc89b" text-anchor="middle" textLength="130.7" lengthAdjust="spacingAndGlyphs">technische</text>
<text x="1244.8" y="1590" font-family="Liberation Sans" font-size="27" font-weight="bold" font-style="normal" fill="#1fc89b" text-anchor="middle" textLength="130" lengthAdjust="spacingAndGlyphs">bijscholing</text>
<circle cx="678.0" cy="1593.1" r="1.8" fill="#1c6b12"/>
<circle cx="1021.0" cy="1593.1" r="1.8" fill="#1c6b12"/>
<circle cx="687.09" cy="1593.1" r="1.8" fill="#1c6b12"/>
<circle cx="1030.09" cy="1593.1" r="1.8" fill="#1c6b12"/>
<circle cx="696.18" cy="1593.1" r="1.8" fill="#1c6b12"/>
<circle cx="1039.18" cy="1593.1" r="1.8" fill="#1c6b12"/>
<circle cx="705.27" cy="1593.1" r="1.8" fill="#1c6b12"/>
<circle cx="1048.27" cy="1593.1" r="1.8" fill="#1c6b12"/>
<circle cx="714.36" cy="1593.1" r="1.8" fill="#1c6b12"/>
<circle cx="1057.36" cy="1593.1" r="1.8" fill="#1c6b12"/>
<circle cx="723.45" cy="1593.1" r="1.8" fill="#1c6b12"/>
<circle cx="1066.45" cy="1593.1" r="1.8" fill="#1c6b12"/>
<circle cx="732.54" cy="1593.1" r="1.8" fill="#1c6b12"/>
<circle cx="1075.54" cy="1593.1" r="1.8" fill="#1c6b12"/>
<circle cx="741.63" cy="1593.1" r="1.8" fill="#1c6b12"/>
<circle cx="1084.63" cy="1593.1" r="1.8" fill="#1c6b12"/>
<circle cx="750.72" cy="1593.1" r="1.8" fill="#1c6b12"/>
<circle cx="1093.72" cy="1593.1" r="1.8" fill="#1c6b12"/>
<circle cx="759.81" cy="1593.1" r="1.8" fill="#1c6b12"/>
<circle cx="1102.81" cy="1593.1" r="1.8" fill="#1c6b12"/>
<circle cx="768.9" cy="1593.1" r="1.8" fill="#1c6b12"/>
<circle cx="1111.9" cy="1593.1" r="1.8" fill="#1c6b12"/>
<circle cx="777.99" cy="1593.1" r="1.8" fill="#1c6b12"/>
<circle cx="1120.99" cy="1593.1" r="1.8" fill="#1c6b12"/>
<circle cx="787.08" cy="1593.1" r="1.8" fill="#1c6b12"/>
<circle cx="1130.08" cy="1593.1" r="1.8" fill="#1c6b12"/>
<line x1="566" y1="1613" x2="566" y2="1639" stroke="#17c996" stroke-width="5.5"/>
<polygon points="558.5,1637 573.5,1637 566,1655" fill="#17c996"/>
<line x1="1244" y1="1613" x2="1244" y2="1678" stroke="#17c996" stroke-width="5.5"/>
<polygon points="1236.5,1676 1251.5,1676 1244,1694" fill="#17c996"/>
<text x="567.7" y="1682.7" font-family="Liberation Sans" font-size="21" font-weight="bold" font-style="normal" fill="#1fc89b" text-anchor="middle" textLength="95.7" lengthAdjust="spacingAndGlyphs">coaching /</text>
<text x="568" y="1700" font-family="Liberation Sans" font-size="21" font-weight="bold" font-style="normal" fill="#1fc89b" text-anchor="middle" textLength="190" lengthAdjust="spacingAndGlyphs">toegang tot kapitaal</text>
<rect x="459.4" y="1722.4" width="218.20000000000005" height="84.6" fill="#0b1ff6" rx="8"/>
<path d="M 459.4,1730.4 Q 499.4,1785 609.4,1800 Q 649.4,1805 669.6,1807 L 467.4,1807 Q 459.4,1807 459.4,1799 Z" fill="#2d44ff"/>
<text x="566.5" y="1771" font-family="Liberation Sans" font-size="29" font-weight="bold" font-style="normal" fill="#ffffff" text-anchor="middle" textLength="144.4" lengthAdjust="spacingAndGlyphs">start bedrijf</text>
<rect x="1132" y="1722.4" width="218.5999999999999" height="84.6" fill="#0b1ff6" rx="8"/>
<path d="M 1132,1730.4 Q 1172,1785 1282,1800 Q 1322,1805 1342.6,1807 L 1140,1807 Q 1132,1807 1132,1799 Z" fill="#2d44ff"/>
<text x="1241.3" y="1771" font-family="Liberation Sans" font-size="29" font-weight="bold" font-style="normal" fill="#ffffff" text-anchor="middle" textLength="58.3" lengthAdjust="spacingAndGlyphs">baan</text>
<path d="M 426,1762.5 L 384,1762.5 Q 375,1762.5 375,1753.5 L 375,1549 Q 375,1540 384,1540 L 430,1540" fill="none" stroke="#17c996" stroke-width="6"/>
<polygon points="448.6,1540 427.6,1532 432.6,1540 427.6,1548" fill="#17c996"/>
<circle cx="371.8" cy="1651.2" r="30.2" fill="#17c896"/>
<text x="371.8" y="1664.5" font-family="Liberation Sans" font-size="38" font-weight="bold" font-style="normal" fill="#ffffff" text-anchor="middle">€</text>
<path d="M 1385,1760.3 L 1421,1760.3 Q 1430.4,1760.3 1430.4,1751 L 1430.4,1556 Q 1430.4,1546.8 1421,1546.8 L 1380,1546.8" fill="none" stroke="#17c996" stroke-width="6"/>
<polygon points="1362.3,1546.8 1383.3,1538.8 1378.3,1546.8 1383.3,1554.8" fill="#17c996"/>
<circle cx="1434.7" cy="1663.3" r="30.2" fill="#17c896"/>
<text x="1434.7" y="1676.6" font-family="Liberation Sans" font-size="38" font-weight="bold" font-style="normal" fill="#ffffff" text-anchor="middle">€</text>
<polyline points="118.5,1506.8 209.1,1494.4 281.1,1505.0" fill="none" stroke="#4a4f52" stroke-width="1.6"/>
<ellipse cx="209.1" cy="1496.6" rx="5.5" ry="3.3" fill="#c8cccc"/>
<rect x="206.3" y="1496.6" width="6.5" height="11.1" rx="0.0" fill="#a8aeae"/>
<rect x="119.4" y="1510.5" width="158.0" height="156.6" rx="0.0" fill="#e1eef6"/>
<rect x="111.1" y="1505.5" width="169.1" height="6.3" rx="0.0" fill="#a3a9aa"/>
<rect x="110.2" y="1504.4" width="8.3" height="8.5" rx="1.5" fill="#dfe3e3"/>
<rect x="111.1" y="1665.8" width="160.8" height="6.1" rx="0.0" fill="#a3a9aa"/>
<rect x="110.2" y="1664.8" width="8.3" height="8.3" rx="1.5" fill="#dfe3e3"/>
<rect x="160.1" y="1526.2" width="1.8" height="62.8" rx="0.0" fill="#c2c9c6"/>
<rect x="185.0" y="1526.2" width="1.8" height="62.8" rx="0.0" fill="#c2c9c6"/>
<rect x="210.0" y="1526.2" width="1.8" height="62.8" rx="0.0" fill="#c2c9c6"/>
<rect x="234.9" y="1526.2" width="1.8" height="62.8" rx="0.0" fill="#c2c9c6"/>
<rect x="259.9" y="1526.2" width="1.8" height="62.8" rx="0.0" fill="#c2c9c6"/>
<rect x="137.9" y="1536.4" width="135.9" height="1.8" rx="0.0" fill="#c2c9c6"/>
<rect x="137.9" y="1547.5" width="135.9" height="1.8" rx="0.0" fill="#c2c9c6"/>
<rect x="137.9" y="1558.6" width="135.9" height="1.8" rx="0.0" fill="#c2c9c6"/>
<rect x="137.9" y="1569.6" width="135.9" height="1.8" rx="0.0" fill="#c2c9c6"/>
<rect x="137.9" y="1580.7" width="135.9" height="1.8" rx="0.0" fill="#c2c9c6"/>
<rect x="130.5" y="1526.2" width="7.4" height="67.5" rx="0.0" fill="#14161a"/>
<rect x="130.5" y="1589.1" width="115.5" height="5.2" rx="0.0" fill="#14161a"/>
<polyline points="140.7,1561.3 155.5,1576.1 170.2,1551.2 199.8,1568.7 260.8,1533.6" fill="none" stroke="#57d4f7" stroke-width="2.8"/>
<polygon points="269.1,1529.9 255.3,1531.8 260.8,1539.1" fill="#57d4f7"/>
<polyline points="140.7,1547.5 202.6,1580.7 231.2,1564.1 246.0,1582.6 260.8,1572.4" fill="none" stroke="#1d3fe0" stroke-width="2.8"/>
<polygon points="267.3,1568.7 254.3,1570.6 261.7,1578.0" fill="#1d3fe0"/>
<circle cx="163.8" cy="1630.6" r="37.0" fill="#57d9fa"/>
<path d="M 162.1,1628.2 L 130.0,1609.7 A 37.0,37.0 0 0 1 155.6,1591.8 Z" fill="#2c55e6" stroke="#e1eef6" stroke-width="1"/>
<path d="M 164.5,1626.7 L 158.0,1590.3 A 37.0,37.0 0 0 1 182.9,1594.7 Z" fill="#1638de" stroke="#e1eef6" stroke-width="1"/>
<path d="M 167.4,1629.0 L 185.9,1596.9 A 37.0,37.0 0 0 1 203.8,1635.4 Z" fill="#74f2d2" stroke="#e1eef6" stroke-width="1"/>
<rect x="203.5" y="1646.4" width="16.3" height="15.7" rx="0.0" fill="#72f3d6"/>
<rect x="219.2" y="1633.4" width="16.3" height="28.7" rx="0.0" fill="#5ff3f3"/>
<rect x="234.9" y="1624.2" width="16.3" height="37.9" rx="0.0" fill="#3b84f2"/>
<rect x="250.6" y="1611.2" width="16.6" height="50.8" rx="0.0" fill="#2a5ae8"/>
<rect x="205.7" y="1671.9" width="7.4" height="79.9" rx="0.0" fill="#a6acac"/>
<polyline points="209.1,1707.4 153.6,1770.2" fill="none" stroke="#6d7273" stroke-width="2.2"/>
<polyline points="209.1,1707.4 218.3,1777.6" fill="none" stroke="#6d7273" stroke-width="2.2"/>
<polyline points="209.1,1707.4 264.5,1770.2" fill="none" stroke="#6d7273" stroke-width="2.2"/>
<polyline points="188.7,1724.0 200.7,1738.8 218.3,1738.8 229.4,1724.0" fill="none" stroke="#6d7273" stroke-width="2"/>
<rect x="199.8" y="1705.5" width="18.5" height="5.5" rx="0.0" fill="#a6acac"/>
<rect x="199.8" y="1736.9" width="18.5" height="5.5" rx="0.0" fill="#a6acac"/>
<ellipse cx="153.6" cy="1771.1" rx="4.8" ry="4.1" fill="#2a2d2f"/>
<ellipse cx="218.3" cy="1778.5" rx="4.8" ry="4.1" fill="#2a2d2f"/>
<ellipse cx="264.5" cy="1771.1" rx="4.8" ry="4.1" fill="#2a2d2f"/>
<polygon points="272.8,1526.2 277.4,1505.9 295.9,1497.6 316.3,1502.2 322.7,1522.5 320.0,1541.0 310.7,1550.2 284.8,1553.9 274.7,1541.0" fill="#111520"/>
<polygon points="277.4,1692.6 295.9,1692.6 296.3,1764.7 290.4,1768.4 284.8,1735.1" fill="#8a4a20"/>
<polygon points="299.6,1692.6 314.4,1692.6 309.2,1738.8 305.5,1768.4 300.0,1768.4 297.8,1735.1" fill="#8a4a20"/>
<polygon points="268.2,1768.4 295.9,1760.0 295.0,1770.2 271.9,1774.8" fill="#1b3de2"/>
<polygon points="295.0,1772.1 307.4,1767.4 306.7,1778.0 295.9,1780.4" fill="#1b3de2"/>
<polygon points="283.0,1566.9 305.2,1566.9 305.2,1624.2 318.1,1629.7 321.8,1664.8 318.1,1692.9 275.6,1692.9 266.4,1664.8 264.5,1629.7 284.8,1624.2" fill="#e8524a"/>
<polygon points="260.8,1590.9 263.0,1602.4 240.9,1591.3 227.5,1576.5 214.2,1563.5 218.7,1561.3 233.5,1570.2 248.2,1583.1" fill="#8a4a20"/>
<polygon points="336.6,1590.9 338.4,1600.5 368.4,1591.3 383.2,1591.3 381.3,1585.7 368.4,1585.0" fill="#8a4a20"/>
<polygon points="262.7,1565.0 283.0,1553.9 288.9,1583.5 285.2,1627.9 260.8,1630.1 262.7,1602.4 259.3,1598.3" fill="#45d3c3"/>
<polygon points="305.2,1553.9 318.1,1553.9 333.3,1566.9 340.3,1598.3 323.7,1602.4 322.2,1627.9 305.2,1624.2" fill="#45d3c3"/>
<rect x="292.2" y="1546.5" width="12.9" height="12.9" rx="0.0" fill="#8a4a20"/>
<ellipse cx="298.7" cy="1532.1" rx="18.9" ry="20.3" fill="#8a4a20"/>
<polygon points="273.8,1535.5 277.4,1509.6 295.9,1498.5 316.3,1503.1 321.8,1522.5 316.3,1519.7 310.7,1511.4 292.2,1512.3 283.0,1524.4 282.1,1541.0" fill="#111520"/>
<polygon points="281.1,1553.9 292.2,1555.8 298.2,1581.7 300.0,1593.1 292.2,1589.1 283.4,1568.7" fill="#111520"/>
<ellipse cx="290.4" cy="1526.2" rx="3.0" ry="2.2" fill="#f4ecec"/>
<circle cx="290.4" cy="1526.2" r="1.9" fill="#1a0c0c"/>
<ellipse cx="307.9" cy="1526.2" rx="3.0" ry="2.2" fill="#f4ecec"/>
<circle cx="307.9" cy="1526.2" r="1.9" fill="#1a0c0c"/>
<ellipse cx="298.7" cy="1539.5" rx="3.3" ry="1.8" fill="#b01818"/>
<polygon points="1518.5,1643.4 1546.2,1643.4 1554.5,1672.8 1561.3,1702.5 1566.7,1773.0 1546.2,1773.0 1540.8,1702.5 1532.7,1674.5 1524.6,1702.5 1516.5,1773.0 1495.9,1773.0 1498.9,1702.5 1500.3,1671.5 1517.8,1643.4" fill="#083a58"/>
<polygon points="1496.2,1772.8 1515.4,1772.8 1514.0,1787.9 1493.5,1790.6 1491.9,1783.6" fill="#141414"/>
<polygon points="1548.9,1772.8 1566.7,1772.8 1570.7,1784.9 1566.7,1790.6 1550.2,1787.9" fill="#141414"/>
<polygon points="1517.8,1560.8 1547.5,1560.8 1545.1,1639.3 1520.5,1639.3" fill="#f1f3f5"/>
<rect x="1518.5" y="1638.8" width="27.3" height="5.7" rx="0.0" fill="#0c0c0c"/>
<polygon points="1586.7,1602.6 1588.3,1616.4 1596.4,1611.0 1597.7,1602.9 1595.0,1598.8" fill="#5a2a16"/>
<polygon points="1494.9,1567.5 1517.8,1562.1 1520.8,1581.0 1520.8,1671.8 1498.2,1671.8 1498.9,1621.5 1493.5,1587.8" fill="#2a42e2"/>
<polygon points="1546.2,1562.1 1571.8,1566.2 1577.5,1583.7 1585.6,1602.6 1588.3,1616.4 1574.5,1615.0 1566.7,1594.5 1565.3,1671.8 1552.9,1671.8 1545.1,1639.3 1542.4,1581.0" fill="#2a42e2"/>
<polygon points="1494.9,1567.5 1507.0,1564.8 1519.4,1615.0 1518.1,1620.4 1507.0,1617.7 1496.2,1594.5" fill="#2a42e2"/>
<polygon points="1516.5,1608.0 1519.4,1620.4 1545.1,1594.8 1561.3,1586.7 1574.8,1585.3 1573.4,1582.6 1555.9,1577.0 1543.7,1586.4" fill="#5a2a16"/>
<rect x="1595.4" y="1572.9" width="28.0" height="39.2" rx="0.0" fill="#7a4a1c"/>
<rect x="1598.1" y="1575.9" width="22.5" height="33.5" rx="0.0" fill="#eceeef"/>
<rect x="1603.5" y="1568.2" width="10.8" height="6.3" rx="2.0" fill="#222628"/>
<circle cx="1609.6" cy="1592.5" r="8.4" fill="none" stroke="#222" stroke-width="1.6"/>
<polyline points="1602.2,1591.8 1608.3,1596.1 1618.8,1582.6" fill="none" stroke="#2fe02a" stroke-width="2.6"/>
<ellipse cx="1623.8" cy="1583.0" rx="5.1" ry="7.8" fill="#5a2a16"/>
<rect x="1523.2" y="1556.7" width="17.6" height="10.8" rx="0.0" fill="#5a2a16"/>
<ellipse cx="1532.0" cy="1538.1" rx="19.6" ry="22.3" fill="#5a2a16"/>
<polygon points="1513.1,1521.6 1517.8,1512.2 1531.3,1508.8 1547.5,1512.2 1551.6,1523.0 1550.5,1531.3 1547.5,1524.3 1516.5,1524.3 1513.8,1532.7" fill="#1e0a08"/>
<polygon points="1515.8,1539.2 1548.9,1539.2 1547.5,1552.7 1539.4,1559.7 1525.9,1559.7 1517.1,1551.3" fill="#2a1208"/>
<ellipse cx="1523.5" cy="1535.8" rx="3.2" ry="2.1" fill="#f4ecec"/>
<circle cx="1523.5" cy="1535.8" r="1.8" fill="#1a0c0c"/>
<ellipse cx="1540.5" cy="1535.8" rx="3.2" ry="2.1" fill="#f4ecec"/>
<circle cx="1540.5" cy="1535.8" r="1.8" fill="#1a0c0c"/>
<ellipse cx="1532.0" cy="1548.6" rx="3.5" ry="1.7" fill="#b04a40"/>
<circle cx="905" cy="1997" r="264" fill="#ffffff"/>
<polygon points="728.1,1825.1 736.3,1819.0 746.4,1823.0 748.9,1841.3 763.1,1870.8 751.5,1872.9 738.3,1843.4 728.1,1833.2" fill="#8a4c22"/>
<polygon points="751.5,1871.8 763.7,1869.8 787.5,1902.3 789.5,1922.7 779.4,1921.0 752.5,1877.9" fill="#a01410"/>
<polygon points="792.2,1861.7 797.3,1841.3 815.6,1833.2 837.9,1837.3 852.2,1855.6 854.2,1873.9 846.1,1890.1 829.8,1898.3 805.4,1894.2 795.2,1882.0" fill="#111520"/>
<polygon points="795.2,2073.1 811.9,2073.1 809.9,2126.0 811.9,2158.5 805.4,2164.6 801.3,2126.0" fill="#8a4c22"/>
<polygon points="842.0,2073.1 860.3,2073.1 862.7,2105.7 874.9,2146.3 868.8,2158.5 854.2,2126.0 846.1,2095.5" fill="#8a4c22"/>
<polygon points="799.3,2156.5 813.5,2158.5 811.9,2178.9 805.4,2181.3 800.3,2172.8" fill="#2040d2"/>
<polygon points="866.4,2156.5 879.0,2156.5 883.1,2172.8 877.0,2179.3 868.8,2172.8" fill="#2040d2"/>
<polygon points="862.3,1955.2 874.9,1953.2 885.1,1991.8 889.2,2010.1 883.1,2012.5 877.0,1993.8" fill="#8a4c22"/>
<polygon points="787.1,1902.3 807.4,1900.3 815.6,1914.5 825.7,1916.6 833.9,1902.3 854.2,1902.3 866.8,1922.7 874.9,1953.2 862.7,1955.6 852.6,1943.0 850.5,1973.5 860.7,2004.0 861.7,2072.1 795.2,2073.5 787.1,2024.3 787.5,1983.7 797.7,1953.2 789.5,1922.7" fill="#9c1208"/>
<polygon points="807.4,1900.3 833.9,1902.3 825.7,1918.6 815.6,1917.0" fill="#8a4c22"/>
<rect x="812.5" y="1890.1" width="18.3" height="16.3" rx="0.0" fill="#8a4c22"/>
<ellipse cx="821.7" cy="1872.2" rx="23.4" ry="24.8" fill="#8a4c22"/>
<polygon points="793.2,1865.7 797.3,1845.4 811.5,1835.2 833.9,1835.2 850.1,1847.4 854.6,1865.7 846.5,1855.6 833.9,1849.5 811.5,1853.9 801.3,1867.8 799.7,1877.9 794.2,1876.3" fill="#111520"/>
<polygon points="833.9,1894.2 844.4,1900.3 842.4,1926.7 834.3,1943.0 821.7,1951.5 829.8,1938.9 833.9,1922.7 830.8,1906.4" fill="#111520"/>
<ellipse cx="810.5" cy="1868.8" rx="3.6" ry="2.6" fill="#f4ecec"/>
<circle cx="810.5" cy="1868.8" r="2.2" fill="#1a0c0c"/>
<ellipse cx="832.2" cy="1868.8" rx="3.6" ry="2.6" fill="#f4ecec"/>
<circle cx="832.2" cy="1868.8" r="2.2" fill="#1a0c0c"/>
<ellipse cx="821.7" cy="1883.0" rx="4.0" ry="2.1" fill="#d04a60"/>
<g fill="none" stroke-width="2.30" stroke-linejoin="round"><path d="M 810.3,1927.3 A 4.0,3.7 0 1 0 809.6,1934.2 L 814.5,1929.7" stroke="#f6891f"/><path d="M 813.7,1934.0 A 3.8,3.7 0 1 0 813.7,1927.6 L 809.0,1932.0" stroke="#0b2be0"/></g>
<polygon points="903.0,1780.3 921.3,1778.3 925.4,1790.5 921.3,1800.7 909.1,1802.7 903.0,1794.6" fill="#5e2a14"/>
<polygon points="904.0,1798.6 915.2,1800.7 911.5,1849.5 890.8,1849.5 894.9,1821.0" fill="#5e2a14"/>
<polygon points="1004.7,1778.3 1020.9,1776.3 1025.0,1790.5 1020.9,1800.7 1008.7,1798.6 1003.7,1788.5" fill="#5e2a14"/>
<polygon points="1012.8,1798.6 1024.4,1798.6 1033.5,1827.1 1039.6,1849.5 1018.9,1849.5 1014.8,1827.1" fill="#5e2a14"/>
<rect x="1012.8" y="1796.6" width="12.2" height="5.1" rx="0.0" fill="#1a1a1a"/>
<polygon points="921.3,2160.6 941.6,2161.6 943.1,2176.8 935.5,2182.3 916.2,2182.3 914.8,2174.8" fill="#e8705f"/>
<polygon points="986.4,2160.6 1004.7,2159.6 1013.2,2174.8 1011.2,2182.3 990.4,2182.3 986.4,2174.8" fill="#e8705f"/>
<polygon points="931.5,1989.8 996.5,1989.8 1000.6,2065.0 1005.1,2158.9 986.4,2161.0 976.2,2065.0 966.0,2024.3 953.8,2065.0 942.0,2163.0 921.3,2161.0 925.4,2065.0 927.4,2004.0" fill="#0d1a72"/>
<polygon points="890.8,1861.7 911.5,1861.7 935.9,1892.2 933.9,1920.6 921.7,1917.0 896.9,1882.0" fill="#48d8c8"/>
<polygon points="1018.9,1863.7 1040.7,1863.7 1029.5,1886.5 1001.0,1894.6 994.9,1892.6" fill="#48d8c8"/>
<polygon points="925.4,1892.2 999.0,1890.1 999.0,1918.6 994.9,1982.0 931.5,1982.0 929.4,1922.7" fill="#48d8c8"/>
<polygon points="888.8,1849.5 909.5,1847.4 911.5,1862.1 891.2,1864.1" fill="#3cb8a8"/>
<polygon points="1017.9,1849.5 1039.6,1848.5 1040.7,1864.1 1018.9,1865.1" fill="#3cb8a8"/>
<rect x="931.5" y="1980.6" width="65.5" height="9.6" rx="0.0" fill="#111111"/>
<rect x="953.8" y="1873.9" width="20.3" height="20.3" rx="0.0" fill="#5e2a14"/>
<ellipse cx="964.0" cy="1860.0" rx="24.8" ry="28.9" fill="#5e2a14"/>
<polygon points="941.2,1845.4 945.7,1830.2 964.0,1827.1 984.7,1831.2 988.8,1845.4 986.8,1853.9 982.3,1843.4 945.7,1843.4 942.7,1853.9" fill="#1e0c08"/>
<polygon points="943.7,1866.1 984.3,1866.1 982.3,1882.4 970.1,1890.5 955.9,1890.5 945.7,1882.4" fill="#2a1208"/>
<ellipse cx="964.0" cy="1876.9" rx="8.1" ry="3.7" fill="#ffffff"/>
<polygon points="945.7,1890.1 964.0,1902.3 982.3,1890.1 982.7,1902.7 964.0,1910.9 945.7,1902.7" fill="#3cc4b4"/>
<g fill="none" stroke-width="2.30" stroke-linejoin="round"><path d="M 982.1,1918.2 A 4.0,3.7 0 1 0 981.4,1925.0 L 986.4,1920.5" stroke="#f6891f"/><path d="M 985.5,1924.9 A 3.8,3.7 0 1 0 985.5,1918.4 L 980.8,1922.9" stroke="#0b2be0"/></g>
<g transform="translate(150,1975.8) skewX(-7)">
<text x="0" y="0" font-family="Liberation Sans" font-size="30" font-weight="bold" font-style="normal" fill="#ffffff" text-anchor="start" textLength="247.6" lengthAdjust="spacingAndGlyphs">'Tijdens de training</text>
</g>
<g transform="translate(150,2007.2) skewX(-7)">
<text x="0" y="0" font-family="Liberation Sans" font-size="30" font-weight="bold" font-style="normal" fill="#ffffff" text-anchor="start" textLength="422.5" lengthAdjust="spacingAndGlyphs">ondernemerschap leerde ik hoe ik</text>
</g>
<g transform="translate(150,2037.5) skewX(-7)">
<text x="0" y="0" font-family="Liberation Sans" font-size="30" font-weight="bold" font-style="normal" fill="#ffffff" text-anchor="start" textLength="401" lengthAdjust="spacingAndGlyphs">een goede ondernemer kan zijn'</text>
</g>
<g transform="translate(581.7,2079.3) skewX(-7)">
<text x="0" y="0" font-family="Liberation Sans" font-size="30" font-weight="bold" font-style="normal" fill="#ffffff" text-anchor="end" textLength="170" lengthAdjust="spacingAndGlyphs">– René Kourabe,</text>
</g>
<g transform="translate(581.7,2109.6) skewX(-7)">
<text x="0" y="0" font-family="Liberation Sans" font-size="30" font-weight="bold" font-style="normal" fill="#ffffff" text-anchor="end" textLength="68.4" lengthAdjust="spacingAndGlyphs">Tsjaad</text>
</g>
<g transform="translate(1207,1975.8) skewX(-7)">
<text x="0" y="0" font-family="Liberation Sans" font-size="30" font-weight="bold" font-style="normal" fill="#ffffff" text-anchor="start" textLength="421" lengthAdjust="spacingAndGlyphs">‘Werken is beter dan thuiszitten’</text>
</g>
<g transform="translate(1642,2019) skewX(-7)">
<text x="0" y="0" font-family="Liberation Sans" font-size="30" font-weight="bold" font-style="normal" fill="#ffffff" text-anchor="end" textLength="189" lengthAdjust="spacingAndGlyphs">– Barry Dramane,</text>
</g>
<g transform="translate(1641,2048.6) skewX(-7)">
<text x="0" y="0" font-family="Liberation Sans" font-size="30" font-weight="bold" font-style="normal" fill="#ffffff" text-anchor="end" textLength="138" lengthAdjust="spacingAndGlyphs">Burkina Faso</text>
</g>
<rect x="105.2" y="2207.7" width="1601.6" height="266.6" rx="8" fill="#ffffff" stroke="#40d9c9" stroke-width="4.5"/>
<text x="144.7" y="2270.6" font-family="Liberation Sans" font-size="24.5" font-weight="bold" font-style="normal" fill="#1fc89b" text-anchor="start" textLength="897.3" lengthAdjust="spacingAndGlyphs">WAAROM WERKT WOORD EN DAAD AAN WAARDIG WERK VOOR JONGEREN?</text>
<circle cx="152" cy="2301" r="5" fill="#1fc89b"/>
<circle cx="152" cy="2340.7" r="5" fill="#1fc89b"/>
<circle cx="152" cy="2380.6" r="5" fill="#1fc89b"/>
<text x="200" y="2310" font-family="Liberation Sans" font-size="28" font-weight="normal" font-style="normal" fill="#1fc89b" text-anchor="start" textLength="860.4" lengthAdjust="spacingAndGlyphs">20% van de jongeren wereldwijd heeft geen werk en volgt geen opleiding</text>
<text x="200" y="2349.7" font-family="Liberation Sans" font-size="28" font-weight="normal" font-style="normal" fill="#1fc89b" text-anchor="start" textLength="550.3" lengthAdjust="spacingAndGlyphs">Dit betreft 2 keer zo vaak vrouwen als mannen</text>
<text x="200" y="2389.6" font-family="Liberation Sans" font-size="28" font-weight="normal" font-style="normal" fill="#1fc89b" text-anchor="start" textLength="974.3" lengthAdjust="spacingAndGlyphs">Van de jongeren die wel werk hebben, leeft bijna een derde nog steeds in armoede:</text>
<text x="203" y="2428.4" font-family="Liberation Sans" font-size="28" font-weight="normal" font-style="normal" fill="#1fc89b" text-anchor="start" textLength="728" lengthAdjust="spacingAndGlyphs">13% leeft van slechts $1,90 per dag en 17% van $3,20 per dag</text>
<text x="1260" y="2238.4" font-family="Liberation Sans" font-size="24.5" font-weight="bold" font-style="normal" fill="#1fc89b" text-anchor="start" textLength="331.5" lengthAdjust="spacingAndGlyphs">WAAR JOB BOOSTER WERKT</text>
<polygon points="1224.1,2287.0 1233.6,2275.5 1241.7,2269.4 1255.2,2266.7 1271.5,2268.7 1281.0,2265.3 1290.5,2262.6 1304.0,2266.7 1314.9,2272.1 1323.0,2270.8 1332.5,2273.5 1339.3,2280.2 1343.4,2289.7 1342.0,2296.5 1336.6,2299.2 1331.2,2301.9 1320.3,2304.6 1313.5,2308.7 1306.8,2314.1 1301.3,2320.9 1297.9,2327.7 1299.3,2335.1 1295.9,2333.1 1290.5,2331.8 1283.7,2331.8 1278.3,2334.5 1275.6,2339.9 1279.6,2346.7 1285.1,2352.1 1291.8,2358.9 1300.7,2364.3 1297.9,2365.9 1290.5,2364.3 1283.7,2360.2 1275.6,2353.4 1267.4,2348.0 1260.7,2339.9 1255.2,2330.4 1251.2,2320.9 1248.5,2310.1 1251.2,2299.2 1255.2,2291.1 1252.5,2285.7 1240.3,2284.3 1230.8,2287.0" fill="#0a24d2"/>
<polygon points="1285.1,2264.0 1295.9,2258.6 1314.9,2255.8 1335.2,2254.5 1348.8,2257.2 1344.7,2266.7 1335.2,2270.8 1323.0,2269.4 1308.1,2268.0 1295.9,2268.0" fill="#0a24d2"/>
<polygon points="1350.1,2255.8 1369.1,2252.5 1403.0,2253.1 1396.2,2259.9 1389.4,2266.7 1375.9,2273.5 1362.3,2280.2 1358.3,2272.1 1355.6,2262.6" fill="#0a24d2"/>
<polygon points="1304.0,2278.9 1314.9,2277.5 1323.0,2283.0 1320.3,2291.1 1313.5,2293.8 1306.8,2288.4" fill="#ffffff"/>
<polygon points="1295.9,2299.2 1304.0,2296.5 1309.5,2301.9 1306.8,2307.4 1300.0,2306.0" fill="#ffffff"/>
<polygon points="1300.0,2364.3 1308.1,2360.2 1319.0,2360.2 1335.2,2367.0 1339.3,2375.1 1355.6,2383.3 1359.6,2388.7 1355.6,2400.9 1354.2,2407.7 1347.4,2415.8 1342.0,2421.2 1336.6,2430.7 1332.5,2437.5 1328.4,2442.9 1325.7,2451.0 1327.1,2461.9 1321.7,2460.5 1317.6,2451.0 1314.9,2434.8 1313.5,2414.4 1306.8,2400.9 1295.9,2388.7 1294.6,2380.6 1298.6,2373.8" fill="#0a24d2"/>
<polygon points="1300.0,2362.9 1308.1,2358.9 1312.2,2367.0 1313.5,2376.5 1309.5,2383.3 1301.3,2377.8 1298.6,2371.1" fill="#f28a22"/>
<polygon points="1291.8,2341.2 1301.3,2340.6 1309.5,2346.0 1301.3,2345.3" fill="#0a24d2"/>
<polygon points="1398,2316 1400,2305 1407,2298 1405,2294 1415,2293 1419,2282 1418.5,2279 1420,2274 1426,2269 1436,2267 1446,2270 1455,2272 1465,2267 1475,2263 1490,2261 1505,2259 1520,2261 1540,2262 1560,2264 1580,2266 1600,2269 1615,2273 1605,2277.5 1597.5,2283.4 1604.8,2293.8 1595,2292 1583,2286 1575,2289 1584,2301 1580,2311.5 1574,2316 1575,2331 1568,2339.6 1562,2348.5 1562,2359 1553,2351.5 1550,2366 1544,2348.5 1538,2339.6 1532,2341 1524,2363 1512,2348.5 1506,2339.6 1497,2340 1492.5,2341 1482,2351.5 1476,2357 1471,2357 1479.2,2358.9 1464.4,2385.5 1464.4,2400.3 1457,2415 1446.6,2431.3 1434.8,2432.8 1426,2407.7 1423,2385 1420,2375 1410,2370 1400,2368 1389.4,2364 1386,2355 1386.7,2340 1392,2329 1398,2322" fill="#0a24d2"/>
<polygon points="1399,2318.5 1410,2313 1420,2309 1425,2306 1430,2312 1436,2310 1445,2309 1450,2311 1455,2313 1458,2316 1458.5,2326 1452,2327.5 1440,2326 1430,2323 1420,2320 1410,2320.5 1401,2320.5" fill="#ffffff"/>
<ellipse cx="1455" cy="2307" rx="8" ry="4.5" fill="#fff"/>
<ellipse cx="1476" cy="2310" rx="3.5" ry="8" fill="#fff"/>
<line x1="1455.5" y1="2329" x2="1471" y2="2356.5" stroke="#fff" stroke-width="2.8"/>
<polygon points="1475,2329 1482,2333 1488.5,2337 1486,2340 1478,2336" fill="#ffffff"/>
<polygon points="1432,2289 1436,2280 1441,2275 1443,2280 1438,2291" fill="#ffffff"/>
<polygon points="1404,2284 1409,2286 1412,2296 1405,2297 1401,2292" fill="#0a24d2"/>
<polygon points="1396,2288 1400,2289 1399,2294 1395,2293" fill="#0a24d2"/>
<ellipse cx="1392" cy="2274" rx="5" ry="2.2" fill="#0a24d2"/>
<polygon points="1603,2281 1606,2285 1600,2297 1595,2299 1594,2294" fill="#0a24d2"/>
<polygon points="1475,2397 1479,2396 1477,2410 1472,2418 1471,2410" fill="#0a24d2"/>
<polygon points="1545,2368 1552,2372 1560,2383 1557,2386 1549,2378" fill="#0a24d2"/>
<polygon points="1567,2370 1578,2368 1581,2378 1572,2383 1566,2378" fill="#0a24d2"/>
<polygon points="1559,2387 1585,2388 1585,2391 1560,2391" fill="#0a24d2"/>
<polygon points="1584,2373 1590,2372 1592,2382 1586,2384" fill="#0a24d2"/>
<polygon points="1600,2380 1612,2381 1621,2390 1612,2392 1602,2388" fill="#0a24d2"/>
<polygon points="1567,2410 1575,2402 1585,2397 1592,2401 1598,2396 1605,2398 1612,2405 1620,2418 1615,2430 1603,2437 1595,2432 1585,2428 1570,2430 1566,2420" fill="#0a24d2"/>
<polygon points="1640,2435 1646,2438 1635,2448 1624,2452 1622,2449 1632,2442" fill="#0a24d2"/>
<polygon points="1505,2321.6 1510,2327 1516,2331 1522,2334 1530,2336 1538,2334 1542,2337 1540,2341 1535,2343 1530,2349 1524,2363 1518,2357 1512,2348 1507,2340 1506,2333" fill="#f28a22"/>
<polygon points="1431,2340 1439,2341 1443,2350 1442,2358 1438,2363 1431,2364.7 1429,2358 1431,2350" fill="#f28a22"/>
<polygon points="1401.6,2365 1402,2358 1405,2353.5 1409,2354 1413,2358 1414.5,2365.6 1411,2365 1409.5,2360 1406,2359 1404,2365" fill="#f28a22"/>
<polygon points="1577,2347 1581,2350 1586,2358 1589,2367 1584,2368 1580,2360 1577,2354" fill="#f28a22"/>
<circle cx="1392" cy="2363.5" r="2" fill="#f28a22"/>
</svg>
</body></html>
